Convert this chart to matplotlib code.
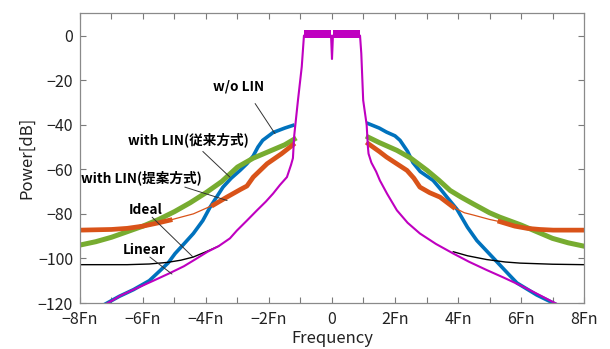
import numpy as np
import matplotlib
matplotlib.use("Agg")
import matplotlib.pyplot as plt

plt.rcParams["font.family"] = ["Noto Sans CJK JP", "DejaVu Sans"]

nan = float("nan")

# w/o LIN (blue)
f_blue = [-7.2, -6.75, -6.3, -5.8, -5.46, -5.2, -4.98, -4.7, -4.4, -4.1, -3.87, -3.46, -3.2,
          -2.92, -2.7, -2.5, -2.35, -2.2, -1.87, -1.5, -1.24,
          nan,
          1.15, 1.5, 1.73, 2.0, 2.16, 2.4, 2.57, 2.8, 3.21, 3.45, 3.65, 3.97, 4.3, 4.6, 5.24,
          5.6, 5.87, 6.5, 7.02, 7.15]
p_blue = [-120.5, -117, -114, -110, -105.5, -102, -97.8, -93.5, -88.8, -83, -77, -68, -64,
          -60.5, -57.5, -54, -50, -47, -43.5, -41.5, -40.3,
          nan,
          -39.5, -41.5, -43.3, -45, -47, -52, -57, -61, -65, -69, -72.5, -78, -86, -92, -101.6,
          -107, -111, -116.4, -120, -121]

# with LIN (conventional, green)
f_green = [-8, -7.5, -7, -6.5, -6, -5.5, -5, -4.5, -4, -3.5, -3, -2.5, -2, -1.5, -1.2,
           nan,
           1.15, 1.5, 2.06, 2.5, 3.02, 3.4, 3.75, 4.1, 4.48, 5.0, 5.33, 6.0, 6.5, 7.0, 7.5, 8]
p_green = [-94, -92.5, -90.5, -88, -85.5, -82.5, -79, -75, -70.5, -65.5, -59, -55, -52, -49, -46.5,
           nan,
           -45.6, -48, -51.5, -55, -60.5, -65, -69.5, -72.5, -75.5, -79.5, -81.5, -85, -88, -91,
           -93, -94.5]

# with LIN (proposed, orange)
f_orange = [-8, -7, -6.5, -6, -5.5, -5.14, -4.8, -4.4, -4.0, -3.76, -3.34, -2.9, -2.7, -2.5,
            -2.06, -1.6, -1.24,
            nan,
            1.15, 1.5, 1.73, 2.0, 2.38, 2.6, 2.79, 3.1, 3.43, 3.85, 4.2, 4.48, 5.0, 5.33, 5.8,
            6.19, 6.6, 7.02, 8]
p_orange = [-87.3, -87, -86.5, -85.5, -84, -82.8, -81.5, -80, -77.5, -76, -72.5, -69, -67.5,
            -63.5, -57.5, -53, -49,
            nan,
            -48.5, -52, -54.5, -57, -60.5, -64, -68, -70.5, -72.5, -77, -79.5, -80.5, -82.5,
            -83.5, -85.5, -86.5, -87, -87.3, -87.3]
orange_thin = [(-5.14, -3.76), (3.85, 5.33)]

# Ideal (black)
f_ideal = [-8, -6.5, -5.8, -5.24, -4.8, -4.41, -4.0, -3.6,
           nan,
           3.85, 4.3, 4.91, 5.5, 5.97, 7.0, 8]
p_ideal = [-102.8, -102.8, -102.5, -101.8, -100.8, -99.4, -97, -94.5,
           nan,
           -97, -98.8, -100.5, -101.6, -102.1, -102.6, -102.8]

# Linear (magenta)
f_lin = [-7.25, -6.95, -6.73, -6.3, -5.67, -5.15, -4.7, -4.35, -3.95, -3.6, -3.24, -3.02, -2.7,
         -2.38, -2.1, -1.87, -1.65, -1.43, -1.3, -1.24, -1.2, -1.08, -0.96, -0.89,
         -0.03, 0.0, 0.03,
         0.89, 0.93, 0.99, 1.1, 1.14, 1.16, 1.25, 1.4, 1.52, 1.75, 2.06, 2.4, 2.79, 3.3, 3.85,
         4.35, 4.91, 5.45, 5.97, 6.5, 7.02, 7.3]
p_lin = [-121, -118.7, -116.8, -114, -110, -106.6, -103.5, -100.5, -97, -94.5, -91, -87.5, -83,
         -78.4, -74.5, -70.9, -67, -63.5, -58, -55, -45, -29, -14, 0,
         0, -10.5, 0,
         0, -8, -29, -40, -50, -53, -57, -61, -65, -71, -78.4, -84, -88.8, -93.5, -97.8,
         -101.5, -105.2, -108.6, -112, -115.8, -119.6, -121.5]
# in-band ripple envelope
f_band = [-0.89, -0.03, nan, 0.03, 0.89]
band_lo = [-1.3, -1.3, nan, -1.3, -1.3]
band_hi = [2.4, 2.4, nan, 2.4, 2.4]

xtick_vals = list(range(-8, 9))
ytick_vals = [-120, -100, -80, -60, -40, -20, 0]

blue = "#0072BD"
orange = "#D95319"
green = "#77AC30"
magenta = "#BF00C0"


def fn_label(v):
    if v % 2:
        return ""
    if v == 0:
        return "0"
    s = "%dFn" % abs(v)
    return "\u2212" + s if v < 0 else s


fig = plt.figure(figsize=(6.10, 3.49), dpi=100)
ax = fig.add_axes([0.1311, 0.1318, 0.8263, 0.8301])

ax.plot(f_blue, p_blue, color=blue, lw=2.6, solid_joinstyle="round")
ax.plot(f_green, p_green, color=green, lw=3.6, solid_joinstyle="round")

fo = np.array(f_orange)
po = np.array(p_orange)
thick = po.copy()
for a, b in orange_thin:
    thick[(fo > a) & (fo < b)] = np.nan
ax.plot(fo, po, color=orange, lw=0.9)
ax.plot(fo, thick, color=orange, lw=3.4, solid_joinstyle="round")

ax.plot(f_ideal, p_ideal, color="black", lw=1.0)
ax.plot(f_lin, p_lin, color=magenta, lw=1.5)
ax.fill_between(f_band, band_lo, band_hi, color=magenta, lw=0)

ax.set_xlim(-8, 8)
ax.set_ylim(-120, 10)
ax.set_xticks(xtick_vals)
ax.set_xticklabels([fn_label(v) for v in xtick_vals])
ax.set_yticks(ytick_vals)
ax.set_yticklabels([("\u2212%d" % -v) if v < 0 else "0" for v in ytick_vals])
ax.tick_params(direction="in", top=True, right=True, length=4, width=0.8,
               color="#7a7a7a", labelsize=11.5, labelcolor="#222222")
ax.tick_params(axis="x", pad=6)
ax.tick_params(axis="y", pad=5)
for sp in ax.spines.values():
    sp.set_color("#8a8a8a")
    sp.set_linewidth(0.9)

ax.set_ylabel("Power[dB]", fontsize=12, color="#222222", labelpad=2)
ax.set_xlabel("Frequency", fontsize=12, color="#222222", va="bottom")
ax.xaxis.set_label_coords(0.5, -0.152)

# labels with leader lines
notes = [
    ("w/o LIN", (-2.98, -22.8), (-2.44, -30.5), (-1.81, -44)),
    ("with LIN(従来方式)", (-4.57, -46.6), (-4.1, -52), (-3.24, -63.5)),
    ("with LIN(提案方式)", (-6.06, -63.6), (-4.67, -68), (-3.33, -74)),
    ("Ideal", (-5.9, -78.4), (-5.71, -81.5), (-4.41, -99.4)),
    ("Linear", (-5.97, -96), (-5.78, -99.4), (-5.08, -107)),
]
for txt, pos, start, end in notes:
    ax.text(pos[0], pos[1], txt, fontsize=9.8, fontweight="bold", ha="center", va="center")
    ax.annotate("", xy=end, xytext=start,
                arrowprops=dict(arrowstyle="-", color="#333333", lw=0.7,
                                shrinkA=0, shrinkB=0))

fig.savefig("out.png", dpi=100)
